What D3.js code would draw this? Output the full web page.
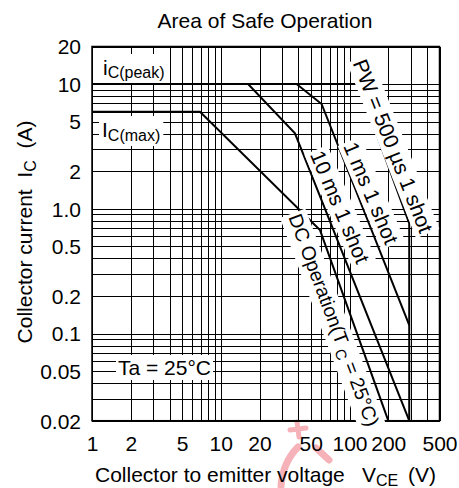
<!DOCTYPE html>
<html><head><meta charset="utf-8">
<script src="https://cdn.jsdelivr.net/npm/d3@7"></script>
<style>
body{margin:0;background:#fff;}
svg text{font-family:"Liberation Sans",Arial,Helvetica,sans-serif;fill:#000;}
</style></head>
<body><svg id="c" width="459" height="488"></svg>
<script>
// ---- data ----
const xTickVals = [1,2,5,10,20,50,100,200,500];
const xTickLabels = ["1","2","5","10","20","50","100","200","500"];
const yTickVals = [20,10,5,2,1,0.5,0.2,0.1,0.05,0.02];
const yTickLabels = ["20","10","5","2","1.0","0.5","0.2","0.1","0.05","0.02"];

const dcV = [1, 6.9, 59, 200];
const dcI = [6, 6, 0.675, 0.02];
const ms10V = [1, 16.3, 37.7, 291];
const ms10I = [10, 10, 4.03, 0.02];
const ms1V = [38.8, 60.7, 291];
const ms1I = [10, 6.92, 0.117];
const us500V = [1, 117, 291, 291];
const us500I = [10, 10, 0.764, 0.02];

// ---- layout ----
const svg = d3.select("#c");
const x = d3.scaleLog().domain([1,500]).range([92,439.5]);
const y = d3.scaleLog().domain([0.02,20]).range([420.7,46.5]);
const FS = 21;

// watermark fragment (below plot)
const wm = svg.append("g").attr("stroke","#f4a0a8").attr("fill","none").attr("stroke-linecap","round").attr("opacity",0.8);
wm.append("path").attr("d","M297,422 L299,437 M290,430 L306,428").attr("stroke-width",5);
wm.append("path").attr("d","M298,447 Q283,462 281,486").attr("stroke-width",7);
wm.append("path").attr("d","M316,448 L329,460").attr("stroke-width",7);

// grid
const g = svg.append("g").attr("shape-rendering","crispEdges").attr("stroke","#000").attr("stroke-width",1);
x.ticks().forEach(v=>{
  const px = Math.round(x(v))+0.5;
  g.append("line").attr("x1",px).attr("x2",px).attr("y1",y(20)).attr("y2",y(0.02));
});
y.ticks().forEach(v=>{
  const py = Math.round(y(v))+0.5;
  g.append("line").attr("x1",x(1)).attr("x2",x(500)).attr("y1",py).attr("y2",py);
});

const frame = svg.append("rect").attr("x",x(1)).attr("y",y(20)).attr("width",x(500)-x(1)).attr("height",y(0.02)-y(20))
  .attr("fill","none").attr("stroke","#000").attr("stroke-width",1.5);

// curves
const line = d3.line().x(d=>x(d[0])).y(d=>y(d[1]));
const curves = svg.append("g").attr("fill","none").attr("stroke","#000").attr("stroke-width",2).attr("stroke-linejoin","miter");
[[dcV,dcI],[ms10V,ms10I],[ms1V,ms1I],[us500V,us500I]].forEach(([V,I])=>{
  curves.append("path").attr("d", line(V.map((v,i)=>[v,I[i]])));
});

// labels with white boxes
const textLayer = svg.append("g");
function boxed(grp, txt, pad){
  const b = txt.node().getBBox();
  grp.insert("rect","text").attr("x",b.x-pad).attr("y",b.y-pad+1).attr("width",b.width+2*pad).attr("height",b.height+2*pad-2).attr("fill","#fff");
}
function rotLabel(cx, cy, ang, fs, build){
  const grp = textLayer.append("g").attr("transform",`translate(${cx},${cy}) rotate(${ang})`);
  const t = grp.append("text").attr("text-anchor","middle").attr("dy","0.35em").attr("font-size",fs);
  build(t);
  boxed(grp,t,2);
}
rotLabel(393,146,68.5,FS,t=>t.text("PW = 500 \u00b5s 1 shot"));
rotLabel(371,193,67,FS,t=>t.text("1 ms 1 shot"));
rotLabel(340,207,67,FS,t=>t.text("10 ms 1 shot"));
rotLabel(334,320,69.5,19.5,t=>{
  t.append("tspan").text("DC Operation(T");
  t.append("tspan").attr("font-size",15).attr("dy",4).text("\u00a0C");
  t.append("tspan").attr("dy",-4).text(" = 25\u00b0C)");
});

function flatLabel(px, py, build, pad){
  const grp = textLayer.append("g");
  const t = grp.append("text").attr("x",px).attr("y",py).attr("font-size",FS);
  build(t);
  boxed(grp,t,pad);
}
flatLabel(103,75,t=>{ t.append("tspan").text("i"); t.append("tspan").attr("font-size",16).attr("dy",3).text("C(peak)"); },3);
flatLabel(102,137,t=>{ t.append("tspan").text("I"); t.append("tspan").attr("font-size",16).attr("dy",4).text("C(max)"); },3);
flatLabel(118,375,t=>t.text("Ta = 25\u00b0C"),2);

// axes tick labels
const yAxis = d3.axisLeft(y).tickValues(yTickVals).tickFormat((d,i)=>yTickLabels[i]).tickSize(0).tickPadding(11);
const ya = svg.append("g").attr("transform",`translate(${x(1)},0)`).call(yAxis);
ya.select(".domain").remove();
ya.selectAll("text").attr("font-size",FS).attr("font-family",null).attr("fill","#000").attr("dy","0.35em");

const xAxis = d3.axisBottom(x).tickValues(xTickVals).tickFormat((d,i)=>xTickLabels[i]).tickSize(0).tickPadding(0);
const xa = svg.append("g").attr("transform",`translate(0,${y(0.02)})`).call(xAxis);
xa.select(".domain").remove();
xa.selectAll("text").attr("font-size",FS).attr("font-family",null).attr("fill","#000").attr("dy",null).attr("y",30);

// titles
svg.append("text").attr("x",265).attr("y",28).attr("text-anchor","middle").attr("font-size",FS).text("Area of Safe Operation");

const xt = svg.append("text").attr("y",482).attr("font-size",FS);
xt.append("tspan").attr("x",95).text("Collector to emitter voltage");
xt.append("tspan").attr("x",362).text("V");
xt.append("tspan").attr("font-size",16).attr("dy",4).text("CE");
xt.append("tspan").attr("x",408).attr("dy",-4).text("(V)");

const yt = svg.append("text").attr("transform","translate(32,232) rotate(-90)").attr("text-anchor","middle").attr("font-size",FS);
yt.append("tspan").text("Collector current\u00a0\u00a0I");
yt.append("tspan").attr("font-size",16).attr("dy",4).text("C");
yt.append("tspan").attr("dy",-4).text("\u00a0\u00a0(A)");
</script></body></html>
